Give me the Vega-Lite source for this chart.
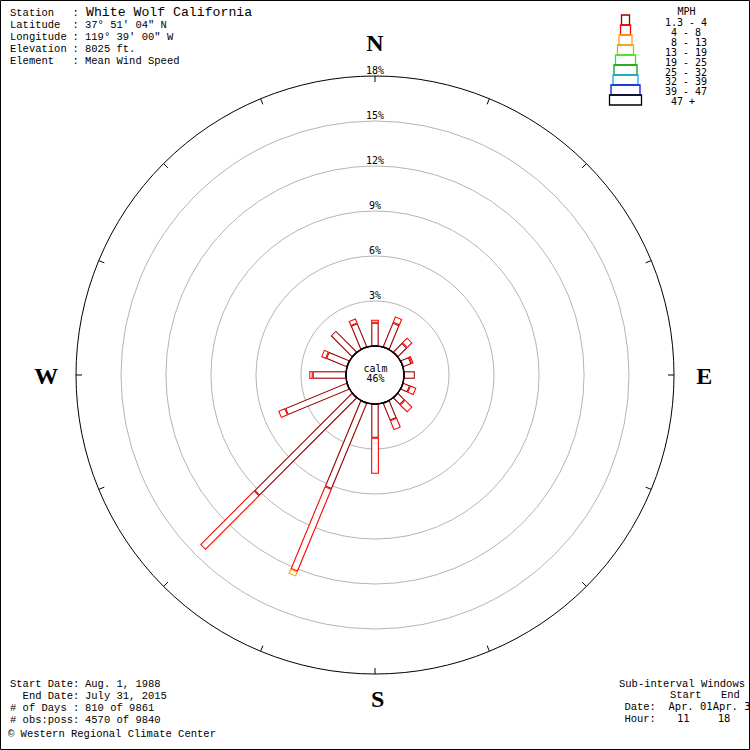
{
  "$schema": "https://vega.github.io/schema/vega-lite/v6.json",
  "width": 750,
  "height": 750,
  "padding": 0,
  "autosize": {"type": "none"},
  "background": "white",
  "view": {"stroke": null},
  "config": {"text": {"color": "black"}},
  "resolve": {"scale": {"strokeWidth": "independent"}},
  "datasets": {
    "bars": [
      {"dir": 0, "cls": "1.3 - 4", "lo": 0, "hi": 1.55},
      {"dir": 0, "cls": "4 - 8", "lo": 1.55, "hi": 1.75},
      {"dir": 22.5, "cls": "1.3 - 4", "lo": 0, "hi": 1.75},
      {"dir": 22.5, "cls": "4 - 8", "lo": 1.75, "hi": 2.2},
      {"dir": 45, "cls": "1.3 - 4", "lo": 0, "hi": 0.85},
      {"dir": 45, "cls": "4 - 8", "lo": 0.85, "hi": 1.35},
      {"dir": 67.5, "cls": "1.3 - 4", "lo": 0, "hi": 0.6},
      {"dir": 67.5, "cls": "4 - 8", "lo": 0.6, "hi": 0.75},
      {"dir": 90, "cls": "1.3 - 4", "lo": 0, "hi": 0.72},
      {"dir": 112.5, "cls": "1.3 - 4", "lo": 0, "hi": 0.5},
      {"dir": 112.5, "cls": "4 - 8", "lo": 0.5, "hi": 0.95},
      {"dir": 135, "cls": "1.3 - 4", "lo": 0, "hi": 0.65},
      {"dir": 135, "cls": "4 - 8", "lo": 0.65, "hi": 1.35},
      {"dir": 157.5, "cls": "1.3 - 4", "lo": 0, "hi": 1.25},
      {"dir": 157.5, "cls": "4 - 8", "lo": 1.25, "hi": 1.95},
      {"dir": 180, "cls": "1.3 - 4", "lo": 0, "hi": 2.25},
      {"dir": 180, "cls": "4 - 8", "lo": 2.25, "hi": 4.65},
      {"dir": 202.5, "cls": "1.3 - 4", "lo": 0, "hi": 6.2},
      {"dir": 202.5, "cls": "4 - 8", "lo": 6.2, "hi": 12.15},
      {"dir": 202.5, "cls": "8 - 13", "lo": 12.15, "hi": 12.5},
      {"dir": 225, "cls": "1.3 - 4", "lo": 0, "hi": 9.2},
      {"dir": 225, "cls": "4 - 8", "lo": 9.2, "hi": 14.3},
      {"dir": 247.5, "cls": "1.3 - 4", "lo": 0, "hi": 4.45},
      {"dir": 247.5, "cls": "4 - 8", "lo": 4.45, "hi": 4.95},
      {"dir": 270, "cls": "1.3 - 4", "lo": 0, "hi": 2.22},
      {"dir": 270, "cls": "4 - 8", "lo": 2.22, "hi": 2.45},
      {"dir": 292.5, "cls": "1.3 - 4", "lo": 0, "hi": 1.5},
      {"dir": 292.5, "cls": "4 - 8", "lo": 1.5, "hi": 1.85},
      {"dir": 315, "cls": "1.3 - 4", "lo": 0, "hi": 2.0},
      {"dir": 337.5, "cls": "1.3 - 4", "lo": 0, "hi": 1.7},
      {"dir": 337.5, "cls": "4 - 8", "lo": 1.7, "hi": 2.05}
    ],
    "classes": [
      {"cls": "1.3 - 4"}, {"cls": "4 - 8"}, {"cls": "8 - 13"}, {"cls": "13 - 19"}, {"cls": "19 - 25"},
      {"cls": "25 - 32"}, {"cls": "32 - 39"}, {"cls": "39 - 47"}, {"cls": "47 +"}
    ],
    "rings": [{"pct": 3}, {"pct": 6}, {"pct": 9}, {"pct": 12}, {"pct": 15}],
    "ringlabels": [
      {"pct": 3, "label": "3%"}, {"pct": 6, "label": "6%"}, {"pct": 9, "label": "9%"},
      {"pct": 12, "label": "12%"}, {"pct": 15, "label": "15%"}, {"pct": 18, "label": "18%"}
    ],
    "dirs": [
      {"dir": 0}, {"dir": 22.5}, {"dir": 45}, {"dir": 67.5}, {"dir": 90}, {"dir": 112.5},
      {"dir": 135}, {"dir": 157.5}, {"dir": 180}, {"dir": 202.5}, {"dir": 225}, {"dir": 247.5},
      {"dir": 270}, {"dir": 292.5}, {"dir": 315}, {"dir": 337.5}
    ]
  },
  "layer": [
    {
      "data": {"name": "rings"},
      "mark": {"type": "arc", "theta": 0, "theta2": 6.2832, "filled": false, "stroke": "#b5b5b5", "strokeWidth": 1},
      "encoding": {
        "radius": {"field": "pct", "type": "quantitative", "stack": null, "scale": {"type": "linear", "domain": [-1.93333, 18], "range": [0, 299], "zero": false, "nice": false}}
      }
    },
    {
      "data": {"values": [{"pct": 18}]},
      "mark": {"type": "arc", "theta": 0, "theta2": 6.2832, "filled": false, "stroke": "#000000", "strokeWidth": 1},
      "encoding": {
        "radius": {"field": "pct", "type": "quantitative", "stack": null, "scale": {"type": "linear", "domain": [-1.93333, 18], "range": [0, 299], "zero": false, "nice": false}}
      }
    },
    {
      "data": {"name": "dirs"},
      "transform": [
        {"calculate": "19.5333*sin(datum.dir*PI/180)", "as": "x0"},
        {"calculate": "19.5333*cos(datum.dir*PI/180)", "as": "y0"},
        {"calculate": "19.9333*sin(datum.dir*PI/180)", "as": "x1"},
        {"calculate": "19.9333*cos(datum.dir*PI/180)", "as": "y1"}
      ],
      "mark": {"type": "rule", "color": "black", "strokeWidth": 1},
      "encoding": {
        "x": {"field": "x0", "type": "quantitative", "scale": {"domain": [-25, 25], "nice": false, "zero": false}, "axis": null},
        "y": {"field": "y0", "type": "quantitative", "scale": {"domain": [-25, 25], "nice": false, "zero": false}, "axis": null},
        "x2": {"field": "x1"},
        "y2": {"field": "y1"}
      }
    },
    {
      "data": {"name": "bars"},
      "transform": [
        {"calculate": "datum.dir*PI/180", "as": "a"},
        {"calculate": "(datum.lo+1.93333)*sin(datum.a)", "as": "x0"},
        {"calculate": "(datum.lo+1.93333)*cos(datum.a)", "as": "y0"},
        {"calculate": "(datum.hi+1.93333)*sin(datum.a)", "as": "x1"},
        {"calculate": "(datum.hi+1.93333)*cos(datum.a)", "as": "y1"}
      ],
      "mark": {"type": "rule", "strokeCap": "butt"},
      "encoding": {
        "x": {"field": "x0", "type": "quantitative", "scale": {"domain": [-25, 25], "nice": false, "zero": false}, "axis": null},
        "y": {"field": "y0", "type": "quantitative", "scale": {"domain": [-25, 25], "nice": false, "zero": false}, "axis": null},
        "x2": {"field": "x1"},
        "y2": {"field": "y1"},
        "color": {"field": "cls", "type": "nominal", "legend": null,
          "scale": {"domain": ["1.3 - 4", "4 - 8", "8 - 13", "13 - 19", "19 - 25", "25 - 32", "32 - 39", "39 - 47", "47 +"],
                    "range": ["#990000", "#ff0000", "#ffa500", "#daa520", "#22ee22", "#119911", "#11aaee", "#1111dd", "#000000"]}},
        "strokeWidth": {"field": "cls", "type": "ordinal", "legend": null,
          "scale": {"domain": ["1.3 - 4", "4 - 8", "8 - 13", "13 - 19", "19 - 25", "25 - 32", "32 - 39", "39 - 47", "47 +"],
                    "range": [7.5, 10, 12, 14, 16, 18, 20, 22, 24]}}
      }
    },
    {
      "data": {"name": "bars"},
      "transform": [
        {"calculate": "datum.dir*PI/180", "as": "a"},
        {"calculate": "(datum.lo+2.0)*sin(datum.a)", "as": "x0"},
        {"calculate": "(datum.lo+2.0)*cos(datum.a)", "as": "y0"},
        {"calculate": "(datum.hi+1.86667)*sin(datum.a)", "as": "x1"},
        {"calculate": "(datum.hi+1.86667)*cos(datum.a)", "as": "y1"}
      ],
      "mark": {"type": "rule", "strokeCap": "butt", "color": "white"},
      "encoding": {
        "x": {"field": "x0", "type": "quantitative", "scale": {"domain": [-25, 25], "nice": false, "zero": false}, "axis": null},
        "y": {"field": "y0", "type": "quantitative", "scale": {"domain": [-25, 25], "nice": false, "zero": false}, "axis": null},
        "x2": {"field": "x1"},
        "y2": {"field": "y1"},
        "strokeWidth": {"field": "cls", "type": "ordinal", "legend": null,
          "scale": {"domain": ["1.3 - 4", "4 - 8", "8 - 13", "13 - 19", "19 - 25", "25 - 32", "32 - 39", "39 - 47", "47 +"],
                    "range": [5.3, 7.8, 9.8, 11.8, 13.8, 15.8, 17.8, 19.8, 21.8]}}
      }
    },
    {
      "data": {"values": [{}]},
      "mark": {"type": "arc", "theta": 0, "theta2": 6.2832, "fill": "white", "stroke": "black", "strokeWidth": 1.5},
      "encoding": {
        "radius": {"datum": 0, "type": "quantitative", "stack": null, "scale": {"type": "linear", "domain": [-1.93333, 18], "range": [0, 299], "zero": false, "nice": false}}
      }
    },
    {
      "data": {"name": "ringlabels"},
      "mark": {"type": "text", "font": "DejaVu Sans Mono", "fontSize": 10, "baseline": "alphabetic", "align": "center", "dy": -2},
      "encoding": {
        "theta": {"datum": 0, "type": "quantitative", "scale": {"domain": [0, 360]}},
        "radius": {"field": "pct", "type": "quantitative", "stack": null, "scale": {"type": "linear", "domain": [-1.93333, 18], "range": [0, 299], "zero": false, "nice": false}},
        "text": {"field": "label"}
      }
    },
    {
      "data": {"values": [{}]},
      "mark": {"type": "text", "text": ["calm", "46%"], "font": "DejaVu Sans Mono", "fontSize": 10, "lineHeight": 10.5, "baseline": "top", "align": "center"},
      "encoding": {
        "x": {"datum": 0.03, "type": "quantitative", "scale": {"domain": [-25, 25], "nice": false, "zero": false}, "axis": null},
        "y": {"datum": 0.753, "type": "quantitative", "scale": {"domain": [-25, 25], "nice": false, "zero": false}, "axis": null}
      }
    },
    {
      "data": {"values": [{}]},
      "mark": {"type": "text", "text": "N", "font": "Liberation Serif", "fontWeight": "bold", "fontSize": 24, "baseline": "top", "align": "center"},
      "encoding": {
        "x": {"datum": 0, "type": "quantitative", "scale": {"domain": [-25, 25], "nice": false, "zero": false}, "axis": null},
        "y": {"datum": 22.9, "type": "quantitative", "scale": {"domain": [-25, 25], "nice": false, "zero": false}, "axis": null}
      }
    },
    {
      "data": {"values": [{}]},
      "mark": {"type": "text", "text": "E", "font": "Liberation Serif", "fontWeight": "bold", "fontSize": 24, "baseline": "top", "align": "center"},
      "encoding": {
        "x": {"datum": 21.95, "type": "quantitative", "scale": {"domain": [-25, 25], "nice": false, "zero": false}, "axis": null},
        "y": {"datum": 0.673, "type": "quantitative", "scale": {"domain": [-25, 25], "nice": false, "zero": false}, "axis": null}
      }
    },
    {
      "data": {"values": [{}]},
      "mark": {"type": "text", "text": "W", "font": "Liberation Serif", "fontWeight": "bold", "fontSize": 24, "baseline": "top", "align": "center"},
      "encoding": {
        "x": {"datum": -21.92, "type": "quantitative", "scale": {"domain": [-25, 25], "nice": false, "zero": false}, "axis": null},
        "y": {"datum": 0.673, "type": "quantitative", "scale": {"domain": [-25, 25], "nice": false, "zero": false}, "axis": null}
      }
    },
    {
      "data": {"values": [{}]},
      "mark": {"type": "text", "text": "S", "font": "Liberation Serif", "fontWeight": "bold", "fontSize": 24, "baseline": "top", "align": "center"},
      "encoding": {
        "x": {"datum": 0.17, "type": "quantitative", "scale": {"domain": [-25, 25], "nice": false, "zero": false}, "axis": null},
        "y": {"datum": -20.86, "type": "quantitative", "scale": {"domain": [-25, 25], "nice": false, "zero": false}, "axis": null}
      }
    },
    {
      "data": {"values": [{}]},
      "mark": {"type": "text", "text": ["Station", "Latitude", "Longitude", "Elevation", "Element"], "font": "Liberation Mono", "fontSize": 10.5, "lineHeight": 12, "baseline": "top", "align": "left"},
      "encoding": {
        "x": {"datum": -24.333, "type": "quantitative", "scale": {"domain": [-25, 25], "nice": false, "zero": false}, "axis": null},
        "y": {"datum": 24.46, "type": "quantitative", "scale": {"domain": [-25, 25], "nice": false, "zero": false}, "axis": null}
      }
    },
    {
      "data": {"values": [{}]},
      "mark": {"type": "text", "text": [":", ": 37° 51' 04\" N", ": 119° 39' 00\" W", ": 8025 ft.", ": Mean Wind Speed"], "font": "Liberation Mono", "fontSize": 10.5, "lineHeight": 12, "baseline": "top", "align": "left"},
      "encoding": {
        "x": {"datum": -20.173, "type": "quantitative", "scale": {"domain": [-25, 25], "nice": false, "zero": false}, "axis": null},
        "y": {"datum": 24.46, "type": "quantitative", "scale": {"domain": [-25, 25], "nice": false, "zero": false}, "axis": null}
      }
    },
    {
      "data": {"values": [{}]},
      "mark": {"type": "text", "text": "White Wolf California", "font": "Liberation Mono", "fontSize": 13.2, "baseline": "top", "align": "left"},
      "encoding": {
        "x": {"datum": -19.267, "type": "quantitative", "scale": {"domain": [-25, 25], "nice": false, "zero": false}, "axis": null},
        "y": {"datum": 24.6, "type": "quantitative", "scale": {"domain": [-25, 25], "nice": false, "zero": false}, "axis": null}
      }
    },
    {
      "data": {"values": [{}]},
      "mark": {"type": "text", "text": ["Start Date:", "End Date:", "# of Days :", "# obs:poss:"], "font": "Liberation Mono", "fontSize": 10.5, "lineHeight": 12, "baseline": "top", "align": "right"},
      "encoding": {
        "x": {"datum": -19.713, "type": "quantitative", "scale": {"domain": [-25, 25], "nice": false, "zero": false}, "axis": null},
        "y": {"datum": -20.24, "type": "quantitative", "scale": {"domain": [-25, 25], "nice": false, "zero": false}, "axis": null}
      }
    },
    {
      "data": {"values": [{}]},
      "mark": {"type": "text", "text": ["Aug. 1, 1988", "July 31, 2015", "810 of 9861", "4570 of 9840"], "font": "Liberation Mono", "fontSize": 10.5, "lineHeight": 12, "baseline": "top", "align": "left"},
      "encoding": {
        "x": {"datum": -19.333, "type": "quantitative", "scale": {"domain": [-25, 25], "nice": false, "zero": false}, "axis": null},
        "y": {"datum": -20.24, "type": "quantitative", "scale": {"domain": [-25, 25], "nice": false, "zero": false}, "axis": null}
      }
    },
    {
      "data": {"values": [{}]},
      "mark": {"type": "text", "text": "© Western Regional Climate Center", "font": "Liberation Mono", "fontSize": 10.5, "baseline": "top", "align": "left"},
      "encoding": {
        "x": {"datum": -24.467, "type": "quantitative", "scale": {"domain": [-25, 25], "nice": false, "zero": false}, "axis": null},
        "y": {"datum": -23.62, "type": "quantitative", "scale": {"domain": [-25, 25], "nice": false, "zero": false}, "axis": null}
      }
    },
    {
      "data": {"values": [{}]},
      "mark": {"type": "text", "text": "Sub-interval Windows", "font": "Liberation Mono", "fontSize": 10.5, "baseline": "top", "align": "left"},
      "encoding": {
        "x": {"datum": 16.267, "type": "quantitative", "scale": {"domain": [-25, 25], "nice": false, "zero": false}, "axis": null},
        "y": {"datum": -20.24, "type": "quantitative", "scale": {"domain": [-25, 25], "nice": false, "zero": false}, "axis": null}
      }
    },
    {
      "data": {"values": [{}]},
      "mark": {"type": "text", "text": "Start", "font": "Liberation Mono", "fontSize": 10.5, "baseline": "top", "align": "left"},
      "encoding": {
        "x": {"datum": 19.667, "type": "quantitative", "scale": {"domain": [-25, 25], "nice": false, "zero": false}, "axis": null},
        "y": {"datum": -21.033, "type": "quantitative", "scale": {"domain": [-25, 25], "nice": false, "zero": false}, "axis": null}
      }
    },
    {
      "data": {"values": [{}]},
      "mark": {"type": "text", "text": "End", "font": "Liberation Mono", "fontSize": 10.5, "baseline": "top", "align": "left"},
      "encoding": {
        "x": {"datum": 23.067, "type": "quantitative", "scale": {"domain": [-25, 25], "nice": false, "zero": false}, "axis": null},
        "y": {"datum": -21.033, "type": "quantitative", "scale": {"domain": [-25, 25], "nice": false, "zero": false}, "axis": null}
      }
    },
    {
      "data": {"values": [{}]},
      "mark": {"type": "text", "text": ["Date:", "Hour:"], "font": "Liberation Mono", "fontSize": 10.5, "lineHeight": 12, "baseline": "top", "align": "left"},
      "encoding": {
        "x": {"datum": 16.627, "type": "quantitative", "scale": {"domain": [-25, 25], "nice": false, "zero": false}, "axis": null},
        "y": {"datum": -21.833, "type": "quantitative", "scale": {"domain": [-25, 25], "nice": false, "zero": false}, "axis": null}
      }
    },
    {
      "data": {"values": [{}]},
      "mark": {"type": "text", "text": "Apr. 01Apr. 30", "font": "DejaVu Sans Mono", "fontSize": 10.5, "baseline": "top", "align": "left"},
      "encoding": {
        "x": {"datum": 19.56, "type": "quantitative", "scale": {"domain": [-25, 25], "nice": false, "zero": false}, "axis": null},
        "y": {"datum": -21.833, "type": "quantitative", "scale": {"domain": [-25, 25], "nice": false, "zero": false}, "axis": null}
      }
    },
    {
      "data": {"values": [{}]},
      "mark": {"type": "text", "text": "11", "font": "DejaVu Sans Mono", "fontSize": 10.5, "baseline": "top", "align": "left"},
      "encoding": {
        "x": {"datum": 20.133, "type": "quantitative", "scale": {"domain": [-25, 25], "nice": false, "zero": false}, "axis": null},
        "y": {"datum": -22.633, "type": "quantitative", "scale": {"domain": [-25, 25], "nice": false, "zero": false}, "axis": null}
      }
    },
    {
      "data": {"values": [{}]},
      "mark": {"type": "text", "text": "18", "font": "DejaVu Sans Mono", "fontSize": 10.5, "baseline": "top", "align": "left"},
      "encoding": {
        "x": {"datum": 22.847, "type": "quantitative", "scale": {"domain": [-25, 25], "nice": false, "zero": false}, "axis": null},
        "y": {"datum": -22.633, "type": "quantitative", "scale": {"domain": [-25, 25], "nice": false, "zero": false}, "axis": null}
      }
    },
    {
      "data": {"values": [{}]},
      "mark": {"type": "text", "text": "MPH", "font": "DejaVu Sans Mono", "fontSize": 10, "baseline": "top", "align": "center"},
      "encoding": {
        "x": {"datum": 20.767, "type": "quantitative", "scale": {"domain": [-25, 25], "nice": false, "zero": false}, "axis": null},
        "y": {"datum": 24.56, "type": "quantitative", "scale": {"domain": [-25, 25], "nice": false, "zero": false}, "axis": null}
      }
    },
    {
      "data": {"values": [{}]},
      "mark": {"type": "text", "text": "1.3 - 4", "font": "DejaVu Sans Mono", "fontSize": 10, "baseline": "top", "align": "left"},
      "encoding": {
        "x": {"datum": 19.333, "type": "quantitative", "scale": {"domain": [-25, 25], "nice": false, "zero": false}, "axis": null},
        "y": {"datum": 23.78, "type": "quantitative", "scale": {"domain": [-25, 25], "nice": false, "zero": false}, "axis": null}
      }
    },
    {
      "data": {"values": [{}]},
      "mark": {"type": "text", "text": ["4 - 8", "8 - 13"], "font": "DejaVu Sans Mono", "fontSize": 10, "lineHeight": 9.85, "baseline": "top", "align": "left"},
      "encoding": {
        "x": {"datum": 19.733, "type": "quantitative", "scale": {"domain": [-25, 25], "nice": false, "zero": false}, "axis": null},
        "y": {"datum": 23.123, "type": "quantitative", "scale": {"domain": [-25, 25], "nice": false, "zero": false}, "axis": null}
      }
    },
    {
      "data": {"values": [{}]},
      "mark": {"type": "text", "text": ["13 - 19", "19 - 25", "25 - 32", "32 - 39", "39 - 47"], "font": "DejaVu Sans Mono", "fontSize": 10, "lineHeight": 9.85, "baseline": "top", "align": "left"},
      "encoding": {
        "x": {"datum": 19.333, "type": "quantitative", "scale": {"domain": [-25, 25], "nice": false, "zero": false}, "axis": null},
        "y": {"datum": 21.81, "type": "quantitative", "scale": {"domain": [-25, 25], "nice": false, "zero": false}, "axis": null}
      }
    },
    {
      "data": {"values": [{}]},
      "mark": {"type": "text", "text": "47 +", "font": "DejaVu Sans Mono", "fontSize": 10, "baseline": "top", "align": "left"},
      "encoding": {
        "x": {"datum": 19.733, "type": "quantitative", "scale": {"domain": [-25, 25], "nice": false, "zero": false}, "axis": null},
        "y": {"datum": 18.527, "type": "quantitative", "scale": {"domain": [-25, 25], "nice": false, "zero": false}, "axis": null}
      }
    },
    {
      "data": {"name": "classes"},
      "mark": {"type": "point", "filled": false, "opacity": 1, "size": 4, "strokeWidth": 1.3},
      "encoding": {
        "x": {"datum": 16.7, "type": "quantitative", "scale": {"domain": [-25, 25], "nice": false, "zero": false}, "axis": null},
        "y": {"datum": 23.667, "type": "quantitative", "scale": {"domain": [-25, 25], "nice": false, "zero": false}, "axis": null},
        "stroke": {"field": "cls", "type": "nominal", "legend": null,
          "scale": {"domain": ["1.3 - 4", "4 - 8", "8 - 13", "13 - 19", "19 - 25", "25 - 32", "32 - 39", "39 - 47", "47 +"],
                    "range": ["#990000", "#ff0000", "#ffa500", "#daa520", "#22ee22", "#119911", "#11aaee", "#1111dd", "#000000"]}},
        "shape": {"field": "cls", "type": "nominal", "legend": null,
          "scale": {"domain": ["1.3 - 4", "4 - 8", "8 - 13", "13 - 19", "19 - 25", "25 - 32", "32 - 39", "39 - 47", "47 +"],
                    "range": ["M-4,-5H4V5H-4Z", "M-5,5H5V15H-5Z", "M-6.5,15H6.5V25H-6.5Z", "M-8,25H8V35H-8Z", "M-10,35H10V45H-10Z", "M-11.5,45H11.5V55H-11.5Z", "M-12.5,55H12.5V65H-12.5Z", "M-14.5,65H14.5V75H-14.5Z", "M-16,75H16V85H-16Z"]}}
      }
    },
    {
      "data": {"values": [{}]},
      "mark": {"type": "rect", "filled": false, "stroke": "black", "strokeWidth": 1},
      "encoding": {
        "x": {"datum": -24.9667, "type": "quantitative", "scale": {"domain": [-25, 25], "nice": false, "zero": false}, "axis": null},
        "x2": {"datum": 24.9667},
        "y": {"datum": -24.9667, "type": "quantitative", "scale": {"domain": [-25, 25], "nice": false, "zero": false}, "axis": null},
        "y2": {"datum": 24.9667}
      }
    }
  ]
}
